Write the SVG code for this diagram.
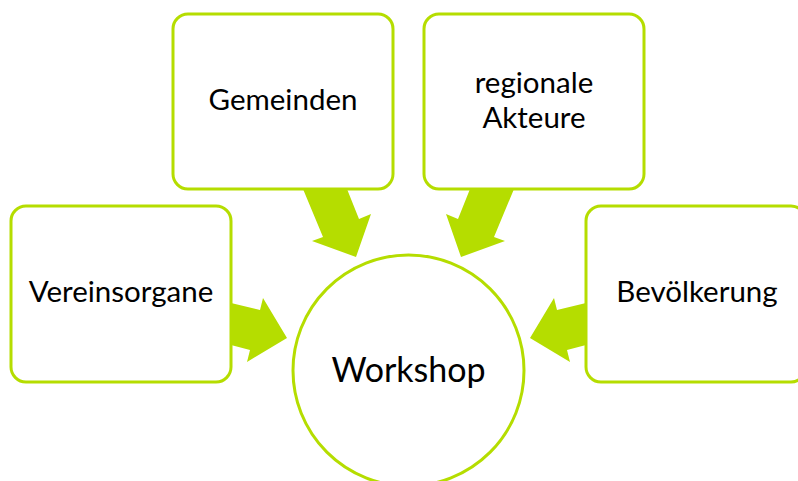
<svg xmlns="http://www.w3.org/2000/svg" width="798" height="481" viewBox="0 0 798 481">
<style>
.box{fill:#fff;stroke:#b5dd00;stroke-width:3}
.arr{fill:#b5dd00;stroke:none}
.lbl{font-family:Lato,"Liberation Sans",sans-serif;font-size:29.5px;fill:#000;text-anchor:middle}
.big{font-size:34px}
</style>
<rect width="798" height="481" fill="#fff"/>
<g id="connectors">
<polygon class="arr" points="231,303 260,310 263,298 287,338 247,362 250,350 231,345"/>
<polygon class="arr" points="586,303 557,310 554,298 530,338 570,362 567,350 586,345"/>
<polygon class="arr" points="303,189 323,237 312,241 356,257 371,214 359,219 347,189"/>
<polygon class="arr" points="514,189 494,237 505,241 461,257 446,214 458,219 470,189"/>
</g>
<g id="workshop">
<circle class="box" cx="408.5" cy="370.5" r="115.5"/>
<text class="lbl big" x="408.5" y="382">Workshop</text>
</g>
<g id="vereinsorgane">
<rect class="box" x="11" y="206" width="220" height="176" rx="15"/>
<text class="lbl" x="121" y="302">Vereinsorgane</text>
</g>
<g id="gemeinden">
<rect class="box" x="173" y="14" width="220" height="175" rx="15"/>
<text class="lbl" x="283" y="110">Gemeinden</text>
</g>
<g id="regionale-akteure">
<rect class="box" x="424" y="14" width="220" height="175" rx="15"/>
<text class="lbl" x="534" y="93">regionale</text>
<text class="lbl" x="534" y="128">Akteure</text>
</g>
<g id="bevoelkerung">
<rect class="box" x="586" y="206" width="220" height="176" rx="15"/>
<text class="lbl" x="697" y="302">Bevölkerung</text>
</g>
</svg>
